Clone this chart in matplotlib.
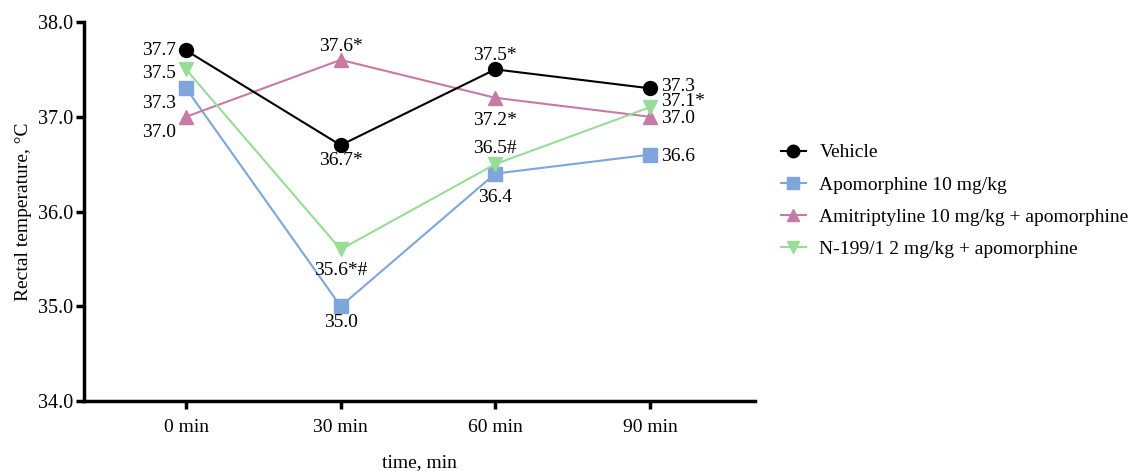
import matplotlib.pyplot as plt

plt.rcParams['font.family'] = ['Liberation Serif', 'DejaVu Serif']

times = ['0 min', '30 min', '60 min', '90 min']
series_names = ['Vehicle', 'Apomorphine 10 mg/kg',
                'Amitriptyline 10 mg/kg + apomorphine',
                'N-199/1 2 mg/kg + apomorphine']
vehicle = [37.7, 36.7, 37.5, 37.3]
apomorphine = [37.3, 35.0, 36.4, 36.6]
amitriptyline = [37.0, 37.6, 37.2, 37.0]
n199 = [37.5, 35.6, 36.5, 37.1]

vehicle_labels = ['37.7', '36.7*', '37.5*', '37.3']
apomorphine_labels = ['37.3', '35.0', '36.4', '36.6']
amitriptyline_labels = ['37.0', '37.6*', '37.2*', '37.0']
n199_labels = ['37.5', '35.6*#', '36.5#', '37.1*']

series = [vehicle, apomorphine, amitriptyline, n199]
labels = [vehicle_labels, apomorphine_labels, amitriptyline_labels, n199_labels]
colors = ['#000000', '#7ea6dc', '#c77aa5', '#98dc98']
markers = ['o', 's', '^', 'v']
# label offsets (points) per series, per time point
offsets = [
    [(-7, 0), (0, -11), (0, 10), (8, 1.5)],
    [(-7, -11), (0, -12), (0, -17), (8, -1)],
    [(-7, -11), (0, 10), (0, -16), (8, -1)],
    [(-7, -3), (0, -15), (0, 11), (8, 4)],
]

fig = plt.figure(figsize=(11.32, 4.71), dpi=100)
ax = fig.add_axes([0.0742, 0.1486, 0.5928, 0.8047])
x = list(range(len(times)))

for i in range(4):
    ax.plot(x, series[i], color=colors[i], marker=markers[i], markersize=10,
            linewidth=1.5, label=series_names[i], zorder=3 if i == 0 else 2)
    for j in range(4):
        dx, dy = offsets[i][j]
        if j == 0:
            ha = 'right'
        elif j == 3:
            ha = 'left'
        else:
            ha = 'center'
        ax.annotate(labels[i][j], (x[j], series[i][j]), xytext=(dx, dy),
                    textcoords='offset points', ha=ha, va='center', fontsize=14)

ax.set_xlim(-0.66, 3.68)
ax.set_ylim(34.0, 38.0)
ax.set_xticks(x)
ax.set_xticklabels(times, fontsize=14)
ax.set_yticks([34.0, 35.0, 36.0, 37.0, 38.0])
ax.set_yticklabels(['34.0', '35.0', '36.0', '37.0', '38.0'], fontsize=14.5)
ax.spines['top'].set_visible(False)
ax.spines['right'].set_visible(False)
ax.spines['left'].set_linewidth(2.5)
ax.spines['bottom'].set_linewidth(2.5)
ax.tick_params(width=2.5, length=6)
ax.tick_params(axis='x', pad=7)
ax.tick_params(axis='y', pad=2)
ax.set_ylabel('Rectal temperature, °C', fontsize=14, labelpad=4)
ax.set_xlabel('time, min', fontsize=14, labelpad=13)

ax.legend(loc='center left', bbox_to_anchor=(1.012, 0.528), frameon=False,
          fontsize=14, handlelength=1.3, handletextpad=0.7, labelspacing=0.75,
          markerscale=0.9)

fig.savefig('out.png', dpi=100)
